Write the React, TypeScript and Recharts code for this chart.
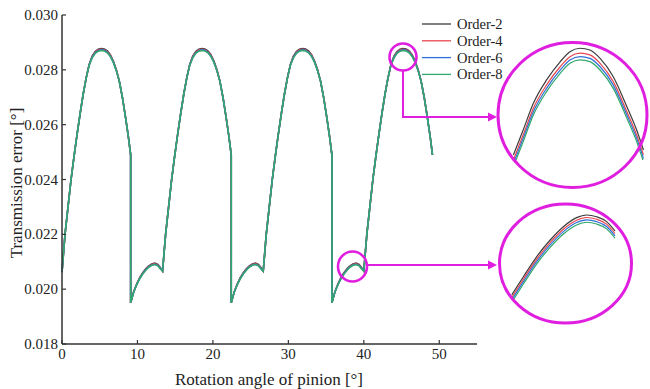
import React from 'react';
import { LineChart, Line, XAxis, YAxis, Legend } from 'recharts';

// ---------- main chart data ----------
const ANGLE = [
  0, 0.4, 0.8, 1.2, 1.6, 2.0, 2.4, 2.8, 3.2, 3.6, 4.0, 4.4, 4.8, 5.2, 5.6, 6.0, 6.4, 6.8, 7.2, 7.6, 8.0, 8.4, 8.8, 9.1, 9.1, 9.5, 9.9, 10.3, 10.7, 11.1, 11.5, 11.9, 12.3, 12.7, 13.0,
  13.33, 13.73, 14.13, 14.53, 14.93, 15.33, 15.73, 16.13, 16.53, 16.93, 17.33, 17.73, 18.13, 18.53, 18.93, 19.33, 19.73, 20.13, 20.53, 20.93, 21.33, 21.73, 22.13, 22.43, 22.43, 22.83, 23.23, 23.63, 24.03, 24.43, 24.83, 25.23, 25.63, 26.03, 26.33,
  26.67, 27.07, 27.47, 27.87, 28.27, 28.67, 29.07, 29.47, 29.87, 30.27, 30.67, 31.07, 31.47, 31.87, 32.27, 32.67, 33.07, 33.47, 33.87, 34.27, 34.67, 35.07, 35.47, 35.77, 35.77, 36.17, 36.57, 36.97, 37.37, 37.77, 38.17, 38.57, 38.97, 39.37, 39.67,
  40.0, 40.4, 40.8, 41.2, 41.6, 42.0, 42.4, 42.8, 43.2, 43.6, 44.0, 44.4, 44.8, 45.2, 45.6, 46.0, 46.4, 46.8, 47.2, 47.6, 48.0, 48.4, 48.8, 49.1,
];

const ORDER_2 = [
  0.02062, 0.02200, 0.02300, 0.02400, 0.02485, 0.02565, 0.02640, 0.02710, 0.02770, 0.02820, 0.02850, 0.02867, 0.02875, 0.02878, 0.02876, 0.02869, 0.02855, 0.02832, 0.02800, 0.02758, 0.02700, 0.02630, 0.02555, 0.02490, 0.01950, 0.01990, 0.02019, 0.02042, 0.02060, 0.02074, 0.02085, 0.02092, 0.02095, 0.02090, 0.02080,
  0.02066, 0.02200, 0.02300, 0.02400, 0.02485, 0.02565, 0.02640, 0.02710, 0.02770, 0.02820, 0.02850, 0.02867, 0.02875, 0.02878, 0.02876, 0.02869, 0.02855, 0.02832, 0.02800, 0.02758, 0.02700, 0.02630, 0.02555, 0.02490, 0.01950, 0.01990, 0.02019, 0.02042, 0.02060, 0.02074, 0.02085, 0.02092, 0.02095, 0.02090, 0.02080,
  0.02066, 0.02200, 0.02300, 0.02400, 0.02485, 0.02565, 0.02640, 0.02710, 0.02770, 0.02820, 0.02850, 0.02867, 0.02875, 0.02878, 0.02876, 0.02869, 0.02855, 0.02832, 0.02800, 0.02758, 0.02700, 0.02630, 0.02555, 0.02490, 0.01950, 0.01990, 0.02019, 0.02042, 0.02060, 0.02074, 0.02085, 0.02092, 0.02095, 0.02090, 0.02080,
  0.02066, 0.02200, 0.02300, 0.02400, 0.02485, 0.02565, 0.02640, 0.02710, 0.02770, 0.02820, 0.02850, 0.02867, 0.02875, 0.02878, 0.02876, 0.02869, 0.02855, 0.02832, 0.02800, 0.02758, 0.02700, 0.02630, 0.02555, 0.02490,
];

const ORDER_4 = [
  0.02062, 0.02200, 0.02300, 0.02400, 0.02485, 0.02565, 0.02640, 0.02710, 0.02770, 0.02819, 0.02848, 0.02864, 0.02872, 0.02875, 0.02873, 0.02866, 0.02853, 0.02830, 0.02799, 0.02758, 0.02700, 0.02630, 0.02555, 0.02490, 0.01950, 0.01990, 0.02018, 0.02041, 0.02058, 0.02072, 0.02083, 0.02090, 0.02093, 0.02088, 0.02078,
  0.02066, 0.02200, 0.02300, 0.02400, 0.02485, 0.02565, 0.02640, 0.02710, 0.02770, 0.02819, 0.02848, 0.02864, 0.02872, 0.02875, 0.02873, 0.02866, 0.02853, 0.02830, 0.02799, 0.02758, 0.02700, 0.02630, 0.02555, 0.02490, 0.01950, 0.01990, 0.02018, 0.02041, 0.02058, 0.02072, 0.02083, 0.02090, 0.02093, 0.02088, 0.02078,
  0.02066, 0.02200, 0.02300, 0.02400, 0.02485, 0.02565, 0.02640, 0.02710, 0.02770, 0.02819, 0.02848, 0.02864, 0.02872, 0.02875, 0.02873, 0.02866, 0.02853, 0.02830, 0.02799, 0.02758, 0.02700, 0.02630, 0.02555, 0.02490, 0.01950, 0.01990, 0.02018, 0.02041, 0.02058, 0.02072, 0.02083, 0.02090, 0.02093, 0.02088, 0.02078,
  0.02066, 0.02200, 0.02300, 0.02400, 0.02485, 0.02565, 0.02640, 0.02710, 0.02770, 0.02819, 0.02848, 0.02864, 0.02872, 0.02875, 0.02873, 0.02866, 0.02853, 0.02830, 0.02799, 0.02758, 0.02700, 0.02630, 0.02555, 0.02490,
];

const ORDER_6 = [
  0.02062, 0.02200, 0.02300, 0.02400, 0.02485, 0.02565, 0.02640, 0.02710, 0.02770, 0.02818, 0.02846, 0.02862, 0.02870, 0.02873, 0.02871, 0.02864, 0.02851, 0.02829, 0.02798, 0.02758, 0.02700, 0.02630, 0.02555, 0.02490, 0.01950, 0.01990, 0.02017, 0.02039, 0.02057, 0.02071, 0.02082, 0.02088, 0.02091, 0.02087, 0.02077,
  0.02066, 0.02200, 0.02300, 0.02400, 0.02485, 0.02565, 0.02640, 0.02710, 0.02770, 0.02818, 0.02846, 0.02862, 0.02870, 0.02873, 0.02871, 0.02864, 0.02851, 0.02829, 0.02798, 0.02758, 0.02700, 0.02630, 0.02555, 0.02490, 0.01950, 0.01990, 0.02017, 0.02039, 0.02057, 0.02071, 0.02082, 0.02088, 0.02091, 0.02087, 0.02077,
  0.02066, 0.02200, 0.02300, 0.02400, 0.02485, 0.02565, 0.02640, 0.02710, 0.02770, 0.02818, 0.02846, 0.02862, 0.02870, 0.02873, 0.02871, 0.02864, 0.02851, 0.02829, 0.02798, 0.02758, 0.02700, 0.02630, 0.02555, 0.02490, 0.01950, 0.01990, 0.02017, 0.02039, 0.02057, 0.02071, 0.02082, 0.02088, 0.02091, 0.02087, 0.02077,
  0.02066, 0.02200, 0.02300, 0.02400, 0.02485, 0.02565, 0.02640, 0.02710, 0.02770, 0.02818, 0.02846, 0.02862, 0.02870, 0.02873, 0.02871, 0.02864, 0.02851, 0.02829, 0.02798, 0.02758, 0.02700, 0.02630, 0.02555, 0.02490,
];

const ORDER_8 = [
  0.02062, 0.02200, 0.02300, 0.02400, 0.02485, 0.02565, 0.02640, 0.02710, 0.02770, 0.02817, 0.02844, 0.02860, 0.02868, 0.02871, 0.02869, 0.02862, 0.02849, 0.02827, 0.02797, 0.02758, 0.02700, 0.02630, 0.02555, 0.02490, 0.01950, 0.01990, 0.02016, 0.02038, 0.02055, 0.02069, 0.02080, 0.02087, 0.02090, 0.02085, 0.02075,
  0.02066, 0.02200, 0.02300, 0.02400, 0.02485, 0.02565, 0.02640, 0.02710, 0.02770, 0.02817, 0.02844, 0.02860, 0.02868, 0.02871, 0.02869, 0.02862, 0.02849, 0.02827, 0.02797, 0.02758, 0.02700, 0.02630, 0.02555, 0.02490, 0.01950, 0.01990, 0.02016, 0.02038, 0.02055, 0.02069, 0.02080, 0.02087, 0.02090, 0.02085, 0.02075,
  0.02066, 0.02200, 0.02300, 0.02400, 0.02485, 0.02565, 0.02640, 0.02710, 0.02770, 0.02817, 0.02844, 0.02860, 0.02868, 0.02871, 0.02869, 0.02862, 0.02849, 0.02827, 0.02797, 0.02758, 0.02700, 0.02630, 0.02555, 0.02490, 0.01950, 0.01990, 0.02016, 0.02038, 0.02055, 0.02069, 0.02080, 0.02087, 0.02090, 0.02085, 0.02075,
  0.02066, 0.02200, 0.02300, 0.02400, 0.02485, 0.02565, 0.02640, 0.02710, 0.02770, 0.02817, 0.02844, 0.02860, 0.02868, 0.02871, 0.02869, 0.02862, 0.02849, 0.02827, 0.02797, 0.02758, 0.02700, 0.02630, 0.02555, 0.02490,
];

// ---------- inset (zoomed) data ----------
const PEAK_ANGLE = [43.88, 44.11, 44.35, 44.66, 44.98, 45.21, 45.45, 45.68, 45.92, 46.23, 46.55, 46.78, 46.94];
const PEAK_ORDER_2 = [0.028159, 0.028305, 0.028461, 0.028597, 0.028703, 0.028762, 0.028782, 0.028772, 0.028723, 0.028616, 0.028441, 0.028305, 0.028188];
const PEAK_ORDER_4 = [0.028130, 0.028276, 0.028432, 0.028568, 0.028674, 0.028733, 0.028753, 0.028743, 0.028694, 0.028587, 0.028412, 0.028276, 0.028159];
const PEAK_ORDER_6 = [0.028110, 0.028256, 0.028412, 0.028548, 0.028654, 0.028713, 0.028733, 0.028723, 0.028674, 0.028567, 0.028392, 0.028256, 0.028139];
const PEAK_ORDER_8 = [0.028091, 0.028237, 0.028393, 0.028529, 0.028635, 0.028694, 0.028714, 0.028704, 0.028655, 0.028548, 0.028373, 0.028237, 0.028120];

const HUMP_ANGLE = [37.07, 37.36, 37.69, 38.03, 38.36, 38.69, 38.94, 39.19, 39.44, 39.65];
const HUMP_ORDER_2 = [0.020432, 0.020547, 0.020673, 0.020779, 0.020863, 0.020920, 0.020937, 0.020926, 0.020895, 0.020836];
const HUMP_ORDER_4 = [0.020416, 0.020531, 0.020657, 0.020763, 0.020847, 0.020904, 0.020921, 0.020910, 0.020879, 0.020820];
const HUMP_ORDER_6 = [0.020401, 0.020516, 0.020642, 0.020748, 0.020832, 0.020889, 0.020906, 0.020895, 0.020864, 0.020805];
const HUMP_ORDER_8 = [0.020386, 0.020501, 0.020627, 0.020733, 0.020817, 0.020874, 0.020891, 0.020880, 0.020849, 0.020790];

const X_TICKS = [0, 10, 20, 30, 40, 50];
const Y_TICKS = [0.018, 0.02, 0.022, 0.024, 0.026, 0.028, 0.03];

const SERIES = [
  { key: 'o2', name: 'Order-2', color: '#3c3c3c' },
  { key: 'o4', name: 'Order-4', color: '#e8464e' },
  { key: 'o6', name: 'Order-6', color: '#2f6fd8' },
  { key: 'o8', name: 'Order-8', color: '#33a86e' },
];

const mainRows = ANGLE.map((a, i) => ({ angle: a, o2: ORDER_2[i], o4: ORDER_4[i], o6: ORDER_6[i], o8: ORDER_8[i] }));
const peakRows = PEAK_ANGLE.map((a, i) => ({ angle: a, o2: PEAK_ORDER_2[i], o4: PEAK_ORDER_4[i], o6: PEAK_ORDER_6[i], o8: PEAK_ORDER_8[i] }));
const humpRows = HUMP_ANGLE.map((a, i) => ({ angle: a, o2: HUMP_ORDER_2[i], o4: HUMP_ORDER_4[i], o6: HUMP_ORDER_6[i], o8: HUMP_ORDER_8[i] }));

const FONT = "'Liberation Serif', 'DejaVu Serif', serif";
const TXT = { fontFamily: FONT };
const AXIS = '#333333';
const MAGENTA = '#e01ee0';

const XTick = (props: any) => {
  const { x, y, payload } = props;
  return (
    <g>
      <line x1={x} x2={x} y1={y} y2={y - 4} stroke={AXIS} strokeWidth={1.2} />
      <text x={x} y={y + 15} textAnchor="middle" style={TXT} fontSize={15} fill="#222">
        {payload.value}
      </text>
    </g>
  );
};

const YTick = (props: any) => {
  const { x, y, payload } = props;
  return (
    <g>
      <line x1={x} x2={x + 4} y1={y} y2={y} stroke={AXIS} strokeWidth={1.2} />
      <text x={x - 4} y={y + 5} textAnchor="end" style={TXT} fontSize={15} fill="#222">
        {Number(payload.value).toFixed(3)}
      </text>
    </g>
  );
};

const LegendBox = () => (
  <svg width={110} height={72}>
    {SERIES.map((s, i) => (
      <g key={s.key}>
        <line x1={2} x2={31} y1={9 + i * 16.8} y2={9 + i * 16.8} stroke={s.color} strokeWidth={1.3} />
        <text x={37} y={14 + i * 16.8} style={TXT} fontSize={14.5} fill="#222">
          {s.name}
        </text>
      </g>
    ))}
  </svg>
);

const Inset = ({ rows, xDomain, yDomain, w, h }: any) => (
  <LineChart width={w} height={h} data={rows} margin={{ top: 0, right: 0, bottom: 0, left: 0 }}>
    <XAxis type="number" dataKey="angle" domain={xDomain} hide allowDataOverflow />
    <YAxis type="number" domain={yDomain} hide allowDataOverflow />
    {SERIES.map((s) => (
      <Line key={s.key} dataKey={s.key} name={s.name} type="monotone" stroke={s.color} strokeWidth={1.2} dot={false} isAnimationActive={false} />
    ))}
  </LineChart>
);

export default function App() {
  return (
    <div style={{ position: 'absolute', left: 0, top: 0, width: 650, height: 389, background: '#fff', overflow: 'hidden', fontFamily: FONT }}>
      <LineChart width={650} height={389} data={mainRows} margin={{ top: 15, right: 173, bottom: 0, left: 0 }}>
        <XAxis
          type="number"
          dataKey="angle"
          domain={[0, 55]}
          ticks={X_TICKS}
          tickSize={0}
          tickMargin={0}
          tickLine={false}
          height={45}
          stroke={AXIS}
          strokeWidth={1.5}
          tick={<XTick />}
          interval={0}
          label={{
            content: () => (
              <text x={269} y={385} textAnchor="middle" style={TXT} fontSize={17} fill="#222">
                Rotation angle of pinion [°]
              </text>
            ),
          }}
        />
        <YAxis
          type="number"
          domain={[0.018, 0.03]}
          ticks={Y_TICKS}
          tickSize={0}
          tickMargin={0}
          tickLine={false}
          width={62}
          stroke={AXIS}
          strokeWidth={1.5}
          tick={<YTick />}
          interval={0}
          label={{
            content: () => (
              <text x={22} y={183} transform="rotate(-90 22 183)" textAnchor="middle" style={TXT} fontSize={17} fill="#222">
                Transmission error [°]
              </text>
            ),
          }}
        />
        <Legend
          layout="vertical"
          align="center"
          verticalAlign="middle"
          wrapperStyle={{ position: 'absolute', left: 420, top: 15, width: 110, height: 72 }}
          content={() => <LegendBox />}
        />
        {SERIES.map((s) => (
          <Line key={s.key} dataKey={s.key} name={s.name} type="linear" stroke={s.color} strokeWidth={1.6} dot={false} isAnimationActive={false} />
        ))}
      </LineChart>

      <div style={{ position: 'absolute', left: 510, top: 40 }}>
        <Inset rows={peakRows} xDomain={[43.8, 47.0]} yDomain={[0.02813, 0.02883]} w={136} h={120} />
      </div>
      <div style={{ position: 'absolute', left: 505, top: 205 }}>
        <Inset rows={humpRows} xDomain={[36.9, 39.9]} yDomain={[0.0204, 0.021]} w={120} h={95} />
      </div>

      <svg width={650} height={389} style={{ position: 'absolute', left: 0, top: 0, pointerEvents: 'none' }}>
        <ellipse cx={403} cy={57} rx={13.5} ry={13.5} fill="none" stroke={MAGENTA} strokeWidth={2.6} />
        <ellipse cx={352.5} cy={266.5} rx={14.5} ry={15} fill="none" stroke={MAGENTA} strokeWidth={2.6} />
        <polyline points="403,70.5 403,117 489,117" fill="none" stroke={MAGENTA} strokeWidth={2} />
        <polygon points="488,112.5 497,117 488,121.5" fill={MAGENTA} />
        <line x1={367} y1={265} x2={489} y2={265} stroke={MAGENTA} strokeWidth={2} />
        <polygon points="488,260.5 497,265 488,269.5" fill={MAGENTA} />
        <ellipse cx={572.5} cy={115} rx={74.5} ry={72.5} fill="none" stroke={MAGENTA} strokeWidth={3} />
        <ellipse cx={565.5} cy={263.5} rx={66} ry={59.5} fill="none" stroke={MAGENTA} strokeWidth={3} />
      </svg>
    </div>
  );
}
